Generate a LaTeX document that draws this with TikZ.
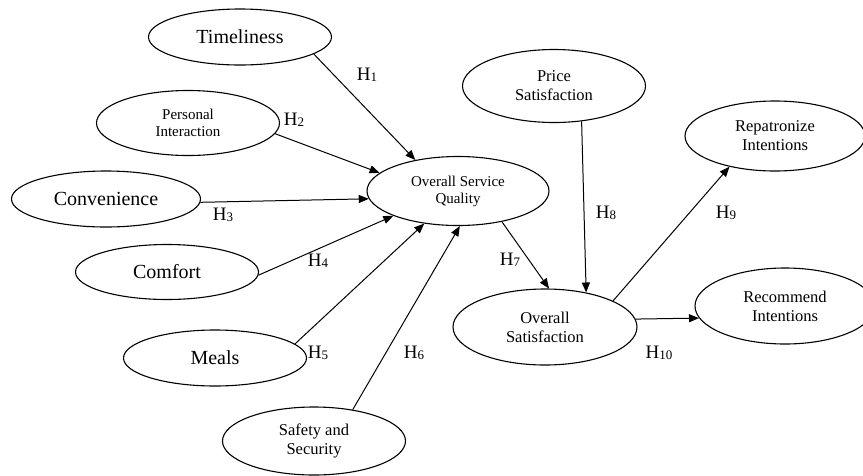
\documentclass[tikz,border=0pt]{standalone}
\usepackage{fontspec}
\setmainfont{Liberation Serif}
\usetikzlibrary{shapes.geometric,arrows.meta}
\tikzset{
  con/.style={ellipse,draw,line width=1.1pt,inner sep=0pt,align=center,minimum width=183pt,minimum height=56pt},
  big/.style={font=\fontsize{20}{22}\selectfont},
  mid/.style={font=\fontsize{16.5}{19}\selectfont},
  sml/.style={font=\fontsize{15}{17}\selectfont},
  arr/.style={line width=1pt,-{Triangle[length=10pt,width=8pt]}},
  hyp/.style={inner sep=0pt,font=\fontsize{19}{19}\selectfont}
}
\newcommand{\hy}[1]{H\raisebox{-0.5pt}{\fontsize{13}{13}\selectfont #1}}
\begin{document}
\begin{tikzpicture}[x=1pt,y=-1pt]
\useasboundingbox (0,0) rectangle (863,475);
\node[con,big] (time) at (240,37) {Timeliness};
\node[con,sml,minimum height=65pt] (pers) at (188,123) {Personal\\Interaction};
\node[con,big,minimum width=189pt] (conv) at (106,199) {Convenience};
\node[con,big,minimum height=55pt] (comf) at (167,272) {Comfort};
\node[con,big] (meal) at (215,358) {Meals};
\node[con,mid,minimum height=68pt] (safe) at (314,441) {Safety and\\Security};
\node[con,sml,minimum width=182pt,minimum height=69pt] (osq) at (458,191) {Overall Service\\Quality};
\node[con,mid,minimum height=73pt] (price) at (554,86) {Price\\Satisfaction};
\node[con,mid,minimum height=76pt,minimum width=184pt] (osat) at (545,327) {Overall\\Satisfaction};
\node[con,mid,minimum height=70pt,minimum width=180pt] (repat) at (775,136) {Repatronize\\Intentions};
\node[con,mid,minimum height=76pt,minimum width=180pt] (recom) at (785,306) {Recommend\\Intentions};

\draw[arr] (time.-13) -- (osq.144);
\draw[arr] (pers.-7) -- (osq.167);
\draw[arr] (conv.-2) -- (osq.-175);
\draw[arr] (comf.-2) -- (osq.201);
\draw[arr] (meal.10.5) -- (osq.-136);
\draw[arr] (safe.39) -- (osq.-87);
\draw[arr] (osq.-35) -- (osat.84);
\draw[arr] (price.-52) -- (osat.40);
\draw[arr] (osat.21) -- (repat.214);
\draw[arr] (osat.5) -- (recom.188);

\node[hyp] (h1) at (367,75) {\hy{1}};
\node[hyp] (h2) at (294,120) {\hy{2}};
\node[hyp] (h3) at (223,215) {\hy{3}};
\node[hyp] (h4) at (318,261) {\hy{4}};
\node[hyp] (h5) at (318,353) {\hy{5}};
\node[hyp] (h6) at (414,353) {\hy{6}};
\node[hyp] (h7) at (510,260) {\hy{7}};
\node[hyp] (h8) at (606,213) {\hy{8}};
\node[hyp] (h9) at (726,213) {\hy{9}};
\node[hyp] (h10) at (659,353) {\hy{10}};
\end{tikzpicture}
\end{document}
